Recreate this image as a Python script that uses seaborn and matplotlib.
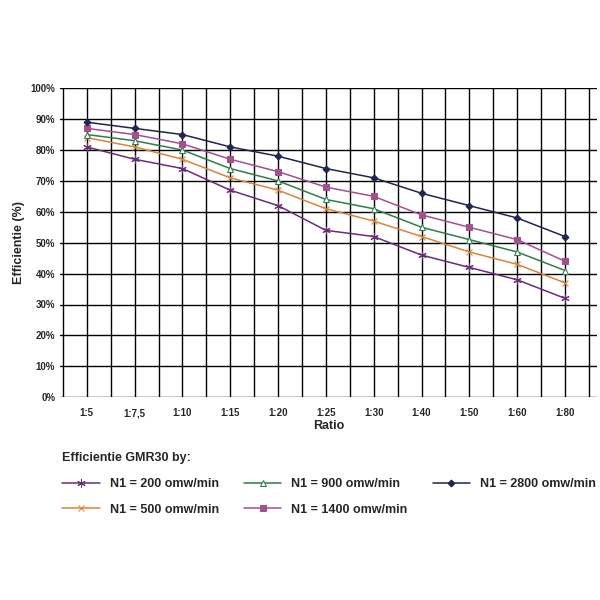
import pandas as pd
import numpy as np
import matplotlib.pyplot as plt
import seaborn as sns

sns.set_style("white")
plt.rcParams['font.family'] = ['Liberation Sans', 'DejaVu Sans']

ratios = ['1:5', '1:7,5', '1:10', '1:15', '1:20', '1:25', '1:30', '1:40', '1:50', '1:60', '1:80']
n200 = [81, 77, 74, 67, 62, 54, 52, 46, 42, 38, 32]
n500 = [84, 81, 77, 71, 67, 61, 57, 52, 47, 43, 37]
n900 = [85, 83, 80, 74, 70, 64, 61, 55, 51, 47, 41]
n1400 = [87, 85, 82, 77, 73, 68, 65, 59, 55, 51, 44]
n2800 = [89, 87, 85, 81, 78, 74, 71, 66, 62, 58, 52]

series = [
    ('N1 = 200 omw/min', n200, '#6a2c7a', (6, 2, 0), 6),
    ('N1 = 500 omw/min', n500, '#d9843a', 'x', 5),
    ('N1 = 900 omw/min', n900, '#2e7d4a', '^', 5),
    ('N1 = 1400 omw/min', n1400, '#a3508f', 's', 4.5),
    ('N1 = 2800 omw/min', n2800, '#1f2550', 'D', 3.5),
]

fig = plt.figure(figsize=(6, 6), dpi=100)
ax = fig.add_axes([0.10, 0.338, 0.895, 0.515])
x = np.arange(len(ratios))
for name, vals, col, mk, ms in series:
    face = 'white' if mk == '^' else col
    sns.lineplot(x=x, y=vals, ax=ax, color=col, marker=mk, markersize=ms,
                 markerfacecolor=face, markeredgecolor=col, linewidth=1.1, label=name)

ax.set_xlim(-0.56, 10.67)
ax.set_ylim(0, 100)
ax.set_xticks(x)
ax.set_xticklabels(ratios, fontsize=7, fontweight='bold')
ax.set_xticks(np.arange(-0.5, 11, 1), minor=True)
ax.set_yticks(np.arange(0, 101, 10))
ax.set_yticklabels([f'{v}%' for v in range(0, 101, 10)], fontsize=7, fontweight='bold')
ax.grid(True, which='both', color='black', linewidth=1.0)
ax.tick_params(length=0, which='both')
ax.tick_params(axis='x', pad=8)
for s in ax.spines.values():
    s.set_visible(False)
ax.set_xlabel('Ratio', fontsize=9, fontweight='bold', labelpad=1)
ax.set_ylabel('Efficientie (%)', fontsize=9, fontweight='bold')

handles, labels = ax.get_legend_handles_labels()
ax.legend_.remove()
leg = fig.legend(handles, labels, loc='upper left', bbox_to_anchor=(0.085, 0.265), ncol=3,
                 frameon=False, title='Efficientie GMR30 by:', alignment='left',
                 prop={'size': 9, 'weight': 'bold'}, columnspacing=2.0, handlelength=3,
                 labelspacing=1.1)
leg.get_title().set_fontsize(9)
leg.get_title().set_fontweight('bold')

fig.savefig('out.png', dpi=100)
